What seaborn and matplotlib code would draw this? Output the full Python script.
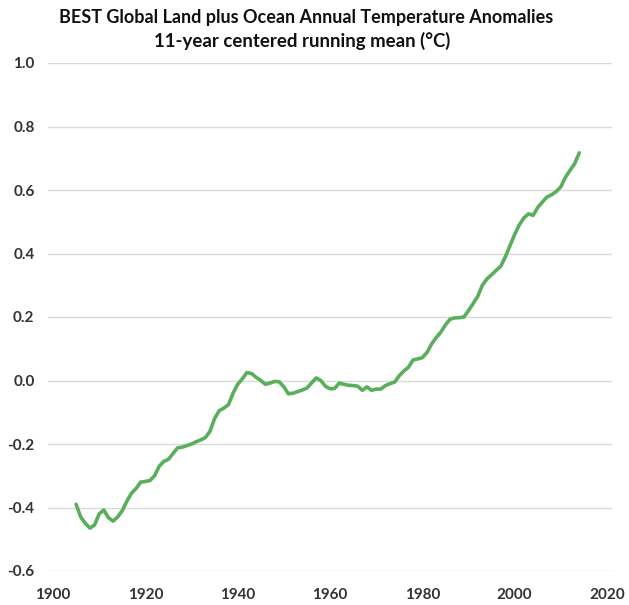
import matplotlib
matplotlib.use("Agg")
import matplotlib.pyplot as plt
import seaborn as sns
import pandas as pd

years = list(range(1905, 2015))
anomaly = [
    -0.39, -0.43, -0.45, -0.465, -0.455, -0.42, -0.408, -0.432, -0.443, -0.43,
    -0.41, -0.38, -0.355, -0.34, -0.32, -0.318, -0.315, -0.30, -0.27, -0.255,
    -0.248, -0.23, -0.212, -0.21, -0.205, -0.20, -0.193, -0.187, -0.18, -0.16,
    -0.12, -0.095, -0.087, -0.076, -0.04, -0.012, 0.005, 0.025, 0.022, 0.01,
    0.0, -0.012, -0.008, -0.003, -0.004, -0.02, -0.042, -0.04, -0.035, -0.03,
    -0.024, -0.008, 0.008, 0.0, -0.018, -0.026, -0.025, -0.008, -0.012, -0.015,
    -0.016, -0.018, -0.031, -0.02, -0.031, -0.027, -0.027, -0.016, -0.01, -0.005,
    0.015, 0.03, 0.042, 0.065, 0.068, 0.072, 0.088, 0.115, 0.135, 0.152,
    0.175, 0.193, 0.197, 0.198, 0.2, 0.22, 0.242, 0.265, 0.3, 0.32,
    0.333, 0.347, 0.36, 0.39, 0.425, 0.46, 0.49, 0.512, 0.525, 0.52,
    0.545, 0.562, 0.578, 0.585, 0.595, 0.61, 0.64, 0.662, 0.683, 0.717,
]
x_ticks = [1900, 1920, 1940, 1960, 1980, 2000, 2020]
y_ticks = [-0.6, -0.4, -0.2, 0.0, 0.2, 0.4, 0.6, 0.8, 1.0]
title_lines = ["BEST Global Land plus Ocean Annual Temperature Anomalies",
               "11-year centered running mean (°C)"]

sns.set_style("white")
plt.rcParams['font.family'] = ['Lato', 'DejaVu Sans']

df = pd.DataFrame({"year": years, "anomaly": anomaly})

W, H = 629, 605
fig = plt.figure(figsize=(W / 100, H / 100), dpi=100)
ax = fig.add_axes([48.4 / W, 1 - 571 / H, (611.6 - 48.4) / W, (571 - 63) / H])

sns.lineplot(data=df, x="year", y="anomaly", ax=ax, color="#5aae5c",
             linewidth=2.6, solid_capstyle="round", solid_joinstyle="round")

ax.set_xlim(1899, 2021)
ax.set_ylim(-0.6, 1.0)
ax.set_xticks(x_ticks)
ax.set_yticks(y_ticks)
ax.set_xticklabels([str(t) for t in x_ticks])
ax.set_yticklabels([f"{t:.1f}" for t in y_ticks])
ax.set_xlabel("")
ax.set_ylabel("")
ax.grid(axis="y", color="#d9d9d9", linewidth=1.0)
ax.grid(axis="x", visible=False)
for s in ax.spines.values():
    s.set_visible(False)
ax.tick_params(axis="both", length=0, labelsize=11, labelcolor="#333333")
ax.tick_params(axis="y", pad=10)
ax.tick_params(axis="x", pad=12)
for lab in ax.get_xticklabels() + ax.get_yticklabels():
    lab.set_fontweight("bold")

fig.text(306 / W, 1 - 23 / H, title_lines[0], ha="center", va="baseline",
         fontsize=13, fontweight="bold", color="#111111")
fig.text(302 / W, 1 - 47 / H, title_lines[1], ha="center", va="baseline",
         fontsize=13.4, fontweight="bold", color="#111111")

fig.savefig("out.png", dpi=100)
